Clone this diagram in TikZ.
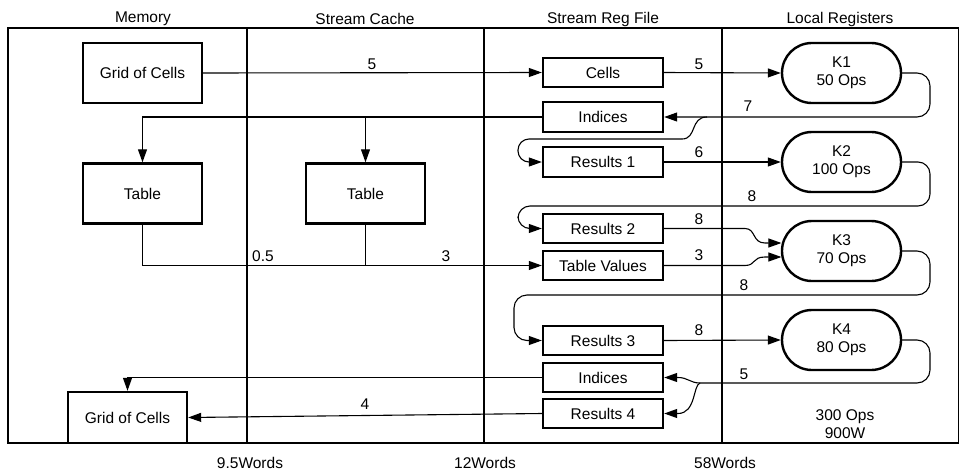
\documentclass[tikz,border=0pt]{standalone}
\usepackage{fontspec}
\setmainfont{Liberation Sans}
\usetikzlibrary{arrows.meta,calc}
\begin{document}
\begin{tikzpicture}[x=1pt,y=-1pt,
  font=\fontsize{15.5}{18}\selectfont,
  box/.style={draw,line width=2.4pt,minimum width=119pt,minimum height=60pt,inner sep=0pt},
  srf/.style={draw,line width=2.4pt,minimum width=120pt,minimum height=29.5pt,inner sep=0pt},
  kern/.style={draw,line width=2.4pt,rounded corners=29.9pt,minimum width=119pt,minimum height=60pt,inner sep=0pt,align=center},
  conn/.style={line width=1.1pt},
  arr/.style={conn,-{Triangle[length=13pt,width=9pt]}},
  lbl/.style={inner sep=0pt},
  divider/.style={line width=1.6pt}]
\useasboundingbox (0,0) rectangle (960,474);
% frame and dividers
\draw[line width=1.3pt] (8,28) rectangle (958.5,443);
\draw[divider] (247,28) -- (247,443);
\draw[divider] (484,28) -- (484,443);
\draw[divider] (722,28) -- (722,443);
% headers
\node[lbl] (hMem) at (143,19) {Memory};
\node[lbl] (hCache) at (365,19) {Stream Cache};
\node[lbl] (hSRF) at (603,19) {Stream Reg File};
\node[lbl] (hLR) at (840,19) {Local Registers};
% bottom labels
\node[lbl] (w1) at (250,463) {9.5Words};
\node[lbl] (w2) at (485,463) {12Words};
\node[lbl] (w3) at (725,463) {58Words};
% memory / cache boxes
\node[box] (grid1) at (142.5,73) {Grid of Cells};
\node[box] (tmem) at (142.5,193.5) {Table};
\node[box] (tcache) at (365.5,193.5) {Table};
\node[box,minimum height=51pt] (grid2) at (127.5,417.5) {Grid of Cells};
% stream register file boxes
\node[srf] (cells) at (603,72.5) {Cells};
\node[srf] (ind1) at (603,117) {Indices};
\node[srf] (res1) at (603,162) {Results 1};
\node[srf] (res2) at (603,228.5) {Results 2};
\node[srf] (tv) at (603,265.5) {Table Values};
\node[srf] (res3) at (603,340.5) {Results 3};
\node[srf] (ind2) at (603,377.5) {Indices};
\node[srf] (res4) at (603,413.5) {Results 4};
% kernels
\node[kern] (k1) at (841.5,73) {K1\\50 Ops};
\node[kern] (k2) at (841.5,162) {K2\\100 Ops};
\node[kern] (k3) at (841.5,251) {K3\\70 Ops};
\node[kern] (k4) at (841.5,340) {K4\\80 Ops};
\node[lbl,align=center] (tot) at (845,424) {300 Ops\\900W};
% connectors
\draw[arr] (grid1.east) -- (cells.west);
\node[lbl] (l1) at (372,64) {5};
\draw[arr] (cells.east) -- (k1.west);
\node[lbl] (l2) at (699,64) {5};
% K1 loop
\coordinate (s1) at (707,117);
\draw[arr,rounded corners=13pt] (k1.east) -- (930,73) -- (930,117) -- (ind1.east);
\draw[conn] (s1) .. controls (690,117) and (697,139) .. (682,139);
\draw[arr,rounded corners=11pt] (682,139) -- (518,139) -- (518,162) -- (res1.west);
\node[lbl] (l3) at (748,106) {7};
\draw[arr] (res1.east) -- (k2.west);
\node[lbl] (l4) at (699,152) {6};
% K2 loop
\draw[arr,rounded corners=12pt] (k2.east) -- (930,162) -- (930,206) -- (518,206) -- (518,228.5) -- (res2.west);
\node[lbl] (l5) at (752,196) {8};
% into K3
\coordinate (k3a) at ($(k3.west)+(0.6,-8)$);
\coordinate (k3b) at ($(k3.west)+(0.6,6)$);
\draw[arr] (res2.east) -- (745,228.5) .. controls (756,228.5) and (752,243) .. (765,243) -- (k3a);
\node[lbl] (l6) at (699,219) {8};
\draw[arr] (tv.east) -- (745,265.5) .. controls (756,265.5) and (752,257) .. (765,257) -- (k3b);
\node[lbl] (l7) at (699,255) {3};
% K3 loop
\draw[arr,rounded corners=13pt] (k3.east) -- (930,251) -- (930,295) -- (514,295) -- (514,340.5) -- (res3.west);
\node[lbl] (l8) at (744,285) {8};
\draw[arr] (res3.east) -- (k4.west);
\node[lbl] (l9) at (699,330) {8};
% K4 loop
\coordinate (s4) at (700,383);
\draw[conn,rounded corners=13pt] (k4.east) -- (930,340) -- (930,383) -- (s4);
\draw[arr] (s4) .. controls (690,383) and (688,377.5) .. (678,377.5) -- (ind2.east);
\draw[arr] (s4) .. controls (693,385) and (696,413.5) .. (678,413.5) -- (res4.east);
\node[lbl] (l10) at (744,374) {5};
% left side
\draw[arr] (ind1.west) -| (tmem.north);
\draw[arr] (tcache.north |- ind1.west) -- (tcache.north);
\draw[arr] (tmem.south) |- (tv.west);
\draw[conn] (tcache.south) -- (tcache.south |- tv.west);
\node[lbl] (l11) at (263,256) {0.5};
\node[lbl] (l12) at (446,256) {3};
\draw[arr] (ind2.west) -| (grid2.north);
\draw[arr] (res4.west) -- (grid2.east);
\node[lbl] (l13) at (365,404) {4};
\end{tikzpicture}
\end{document}
